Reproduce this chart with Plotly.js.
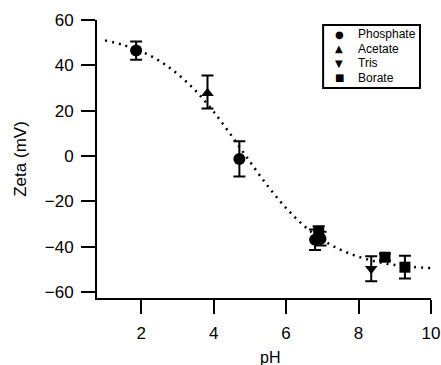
<!DOCTYPE html>
<html>
<head>
<meta charset="utf-8">
<script src="https://cdn.plot.ly/plotly-3.0.1.min.js"></script>
<style>html,body{margin:0;padding:0;background:#fff;}#chart{width:441px;height:365px;}</style>
</head>
<body>
<div id="chart"></div>
<script>
// Phosphate
const phosX = [1.86, 4.71, 6.8, 6.95];
const phosY = [46.5, -1.3, -37, -36.5];
const phosErr = [4, 7.8, 4.5, 3];
// Acetate
const acetX = [3.83];
const acetY = [27.7];
const acetErrPlus = [7.8];
const acetErrMinus = [6.8];
// Tris
const trisX = [8.35];
const trisY = [-49.8];
const trisErr = [5.5];
// Borate
const borX = [6.9, 8.73, 9.28];
const borY = [-33.5, -44.7, -49.1];
const borErr = [2.5, 1.5, 5];
// Dotted fit curve
const fitX = [1, 1.5, 2, 2.5, 3, 3.5, 4, 4.5, 5, 5.5, 6, 6.5, 7, 7.5, 8, 8.5, 9, 9.5, 10];
const fitY = [51, 49, 46.1, 42, 36.2, 28.8, 19.5, 8.8, -2.5, -13.4, -23, -30.9, -37, -41.4, -44.5, -46.7, -48.1, -49, -49.5];
// Legend
const legendNames = ["Phosphate", "Acetate", "Tris", "Borate"];
const legendGlyphs = ["\u25CF", "\u25B2", "\u25BC", "\u25A0"];
const xTicks = [2, 4, 6, 8, 10];
const yTicks = [-60, -40, -20, 0, 20, 40, 60];

const FONT = "Liberation Sans, Arial, sans-serif";
function errSym(arr){return {type:'data', array:arr, visible:true, color:'#000', thickness:2, width:6};}

const traces = [
  {x: fitX, y: fitY, mode: 'lines', line: {color:'#000', width:2.5, dash:'2px,5px', shape:'spline'}, showlegend:false, hoverinfo:'skip'},
  {x: phosX, y: phosY, mode:'markers', name:'Phosphate', marker:{symbol:'circle', size:12, color:'#000'}, error_y: errSym(phosErr)},
  {x: acetX, y: acetY, mode:'markers', name:'Acetate', marker:{symbol:'triangle-up', size:11, color:'#000'},
   error_y:{type:'data', array:acetErrPlus, arrayminus:acetErrMinus, symmetric:false, visible:true, color:'#000', thickness:2, width:6}},
  {x: trisX, y: trisY, mode:'markers', name:'Tris', marker:{symbol:'triangle-down', size:11, color:'#000'}, error_y: errSym(trisErr)},
  {x: borX, y: borY, mode:'markers', name:'Borate', marker:{symbol:'square', size:11, color:'#000'}, error_y: errSym(borErr)}
];

const legX0 = 0.677, legX1 = 0.967, legY0 = 0.755, legY1 = 0.982;
const rowY = [0.9496, 0.8957, 0.8453, 0.7914];
const annotations = [];
legendNames.forEach((n, i) => {
  annotations.push({xref:'paper', yref:'paper', x:0.7246, y:rowY[i], text:legendGlyphs[i], showarrow:false,
    xanchor:'center', yanchor:'middle', font:{family:'DejaVu Sans', size:10, color:'#000'}});
  annotations.push({xref:'paper', yref:'paper', x:0.7754, y:rowY[i], text:n, showarrow:false,
    xanchor:'left', yanchor:'middle', font:{family:FONT, size:12, color:'#000'}});
});
annotations.push({xref:'paper', yref:'paper', x:(270-97)/334, y:-(357-298)/278, text:'pH', showarrow:false,
  xanchor:'center', yanchor:'middle', font:{family:FONT, size:16, color:'#000'}});

const layout = {
  width: 441, height: 365,
  margin: {l:97, r:10, t:20, b:67, pad:0},
  paper_bgcolor:'#fff', plot_bgcolor:'#fff',
  showlegend:false,
  font:{family:FONT, size:16, color:'#000'},
  xaxis:{range:[0.78, 10.0], tickvals:xTicks, ticktext:xTicks.map(String), ticks:'outside', ticklen:14, tickwidth:2,
    tickcolor:'#000', showline:true, linewidth:2, linecolor:'#000', showgrid:false, zeroline:false,
    ticklabelstandoff:5, tickfont:{size:17}},
  yaxis:{range:[-62.7, 60], tickvals:yTicks, ticktext:yTicks.map(v => v < 0 ? '\u2212' + Math.abs(v) : String(v)),
    ticks:'outside', ticklen:14, tickwidth:2, tickcolor:'#000', showline:true, linewidth:2, linecolor:'#000',
    ticklabelstandoff:4,
    showgrid:false, zeroline:false, tickfont:{size:17}, title:{text:'Zeta (mV)', font:{size:17}, standoff:14}},
  shapes:[{type:'rect', xref:'paper', yref:'paper', x0:legX0, x1:legX1, y0:legY0, y1:legY1, line:{color:'#000', width:2}, fillcolor:'rgba(0,0,0,0)'}],
  annotations: annotations
};

Plotly.newPlot('chart', traces, layout, {displayModeBar:false, staticPlot:true});
</script>
</body>
</html>
